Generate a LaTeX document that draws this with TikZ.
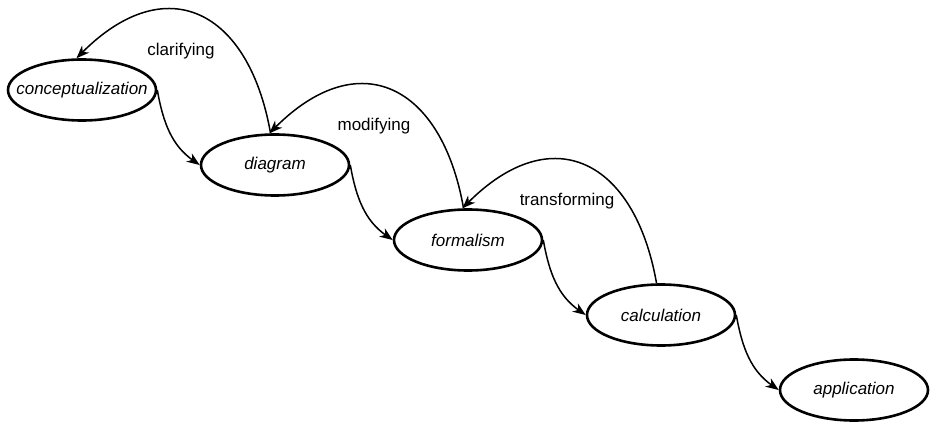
\documentclass[tikz,border=0pt]{standalone}
\usepackage{fontspec}
\setmainfont{Liberation Sans}
\usetikzlibrary{positioning,shapes.geometric,arrows.meta}

\begin{document}
\begin{tikzpicture}[stagenode/.style={ellipse,draw,line width=2.6pt,minimum width=148pt,minimum height=61pt,inner xsep=-16pt,inner ysep=0pt,font=\fontsize{17}{20}\selectfont\itshape},
		stageline/.style={line width=1.5pt,-{Stealth[length=13pt,width=10pt,inset=4pt]}},
		stagelabel/.style={font=\fontsize{17}{20}\selectfont}]
		\useasboundingbox (0,0) rectangle (930pt,-423pt);

		\node[stagenode] at (82pt,-90pt)												(con)	{conceptualization};
		\node[stagenode,on grid,node distance=75pt and 193pt,below right=of con]		(dia)	{diagram};
		\node[stagenode,on grid,node distance=75pt and 193pt,below right=of dia]		(for)	{formalism};
		\node[stagenode,on grid,node distance=75pt and 193pt,below right=of for]		(cal)	{calculation};
		\node[stagenode,on grid,node distance=75pt and 193pt,below right=of cal]		(app)	{application};

		\node[stagelabel,on grid,node distance=114pt and 94pt,above left=of dia]		(clar)	{clarifying};
		\node[stagelabel,on grid,node distance=114pt and 94pt,above left=of for]		(mod)	{modifying};
		\node[stagelabel,on grid,node distance=114pt and 94pt,above left=of cal]		(trans)	{transforming};

		\draw[stageline] (con.east) to[out=-80,in=145] (dia.west);
		\draw[stageline] (dia.east) to[out=-80,in=145] (for.west);
		\draw[stageline] (for.east) to[out=-80,in=145] (cal.west);
		\draw[stageline] (cal.east) to[out=-80,in=145] (app.west);

		\draw[stageline] (dia.98) to[out=100,in=45,looseness=1.55] (con.100);
		\draw[stageline] (for.98) to[out=100,in=45,looseness=1.55] (dia.100);
		\draw[stageline] (cal.98) to[out=100,in=45,looseness=1.55] (for.100);
	\end{tikzpicture}
\end{document}
